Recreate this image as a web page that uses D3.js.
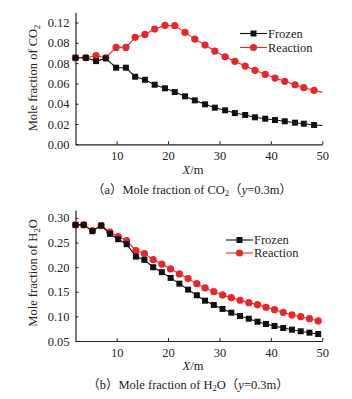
<!DOCTYPE html>
<meta charset="utf-8">
<script src="https://d3js.org/d3.v7.min.js"></script>
<style>
body { margin: 0; background: #fff; }
svg text { font-family: "Liberation Serif", "Times New Roman", "Noto Sans CJK SC", serif; fill: #222; }
</style>
<div id="chart"></div>
<script>
// --- data ---
// (a) CO2 at y=0.3m
var xCO2 = [2, 4.0, 6.0, 7.9, 9.9, 11.8, 13.6, 15.5, 17.4, 19.4, 21.3, 23.3, 25.2, 27.2,
            29.1, 31.1, 33.0, 35.0, 36.9, 38.9, 40.8, 42.7, 44.7, 46.4, 48.4, 50];
var co2Frozen = [0.0853, 0.0853, 0.0820, 0.0847, 0.0755, 0.0755, 0.0666, 0.0636, 0.0587, 0.0552,
                 0.0515, 0.0473, 0.0433, 0.0394, 0.0361, 0.0335, 0.0308, 0.0289, 0.0266, 0.0252,
                 0.0239, 0.0227, 0.0213, 0.0203, 0.0190, 0.0187];
var co2Reaction = [0.0853, 0.0853, 0.0873, 0.0853, 0.0955, 0.0955, 0.1054, 0.1083, 0.1136, 0.1172,
                   0.1169, 0.1103, 0.1037, 0.0978, 0.0919, 0.0863, 0.0818, 0.0771, 0.0729, 0.0690,
                   0.0653, 0.0621, 0.0587, 0.0558, 0.0532, 0.0512];
var co2Ticks = [0, 0.02, 0.04, 0.06, 0.08, 0.10, 0.12];
var co2TickLabels = ["0.00", "0.02", "0.04", "0.06", "0.08", "0.08", "0.12"];

// (b) H2O at y=0.3m
var xH2O = [2, 3.6, 5.3, 7.0, 8.7, 10.3, 11.95, 13.75, 15.4, 17.1, 18.8, 20.5, 22.2, 23.9, 25.6,
            27.2, 28.9, 30.6, 32.3, 34.0, 35.7, 37.4, 39.05, 40.7, 42.4, 44.1, 45.8, 47.5, 49.2];
var h2oFrozen = [0.2858, 0.2858, 0.2730, 0.2844, 0.2675, 0.2567, 0.2466, 0.2214, 0.2147, 0.1998,
                 0.1897, 0.1781, 0.1665, 0.1543, 0.1429, 0.1319, 0.1232, 0.1151, 0.1075, 0.1008,
                 0.0953, 0.0892, 0.0846, 0.0805, 0.0764, 0.0730, 0.0697, 0.0669, 0.0642];
var h2oReaction = [0.2858, 0.2858, 0.2742, 0.2844, 0.2710, 0.2620, 0.2540, 0.2336, 0.2275, 0.2153,
                   0.2059, 0.1964, 0.1862, 0.1767, 0.1665, 0.1578, 0.1502, 0.1435, 0.1380, 0.1327,
                   0.1279, 0.1238, 0.1185, 0.1136, 0.1083, 0.1029, 0.0994, 0.0953, 0.0907];
var h2oTicks = [0.05, 0.10, 0.15, 0.20, 0.25, 0.30];
var h2oTickLabels = ["0.05", "0.10", "0.15", "0.20", "0.25", "0.30"];

var xTicks = [10, 20, 30, 40, 50];
var seriesNames = ["Frozen", "Reaction"];
var colors = { "Frozen": "#111", "Reaction": "#e8272d" };

var svg = d3.select("#chart").append("svg")
    .attr("width", 352).attr("height", 399);

function panel(opt) {
  var g = svg.append("g");
  var x = d3.scaleLinear().domain([2, 50]).range([75.5, 322.3]);
  var y = d3.scaleLinear().domain(opt.yDomain).range(opt.yRange);

  // axes (left + bottom only, ticks inward)
  var xa = g.append("g").attr("transform", "translate(0," + opt.yRange[0] + ")")
    .call(d3.axisBottom(x).tickValues(xTicks).tickSizeInner(-3).tickSizeOuter(0).tickPadding(7));
  var ya = g.append("g").attr("transform", "translate(75.5,0)")
    .call(d3.axisLeft(y).tickValues(opt.ticks).tickSizeInner(-3).tickSizeOuter(0).tickPadding(6)
      .tickFormat(function(d, i) { return opt.tickLabels[i]; }));
  [xa, ya].forEach(function(a) {
    a.select(".domain").attr("stroke", "#222").attr("stroke-width", 1.2);
    a.selectAll(".tick line").attr("stroke", "#222");
    a.selectAll("text").attr("font-size", 12.5).attr("fill", "#222");
  });

  var line = d3.line().x(function(d) { return x(d.x); }).y(function(d) { return y(d.v); });

  // draw Reaction first, Frozen on top
  ["Reaction", "Frozen"].forEach(function(name) {
    var pts = opt.xs.map(function(xv, i) { return { x: xv, v: opt.data[name][i] }; });
    g.append("path").datum(pts)
      .attr("fill", "none").attr("stroke", colors[name]).attr("stroke-width", 1.1)
      .attr("d", line);
    var mk = opt.lastMarker ? pts : pts.slice(0, -1);
    if (name === "Frozen") {
      g.selectAll(null).data(mk).enter().append("rect")
        .attr("x", function(d) { return x(d.x) - 3; })
        .attr("y", function(d) { return y(d.v) - 3; })
        .attr("width", 6).attr("height", 6).attr("fill", colors[name]);
    } else {
      g.selectAll(null).data(mk).enter().append("circle")
        .attr("cx", function(d) { return x(d.x); })
        .attr("cy", function(d) { return y(d.v); })
        .attr("r", 3.6).attr("fill", colors[name]);
    }
  });

  // legend
  seriesNames.forEach(function(name, i) {
    var ly = opt.legend[1] + i * opt.legendGap;
    var lx = opt.legend[0];
    g.append("line").attr("x1", lx).attr("x2", lx + 27).attr("y1", ly).attr("y2", ly)
      .attr("stroke", colors[name]).attr("stroke-width", 1.1);
    if (name === "Frozen") {
      g.append("rect").attr("x", lx + 13.5 - 3).attr("y", ly - 3).attr("width", 6).attr("height", 6)
        .attr("fill", colors[name]);
    } else {
      g.append("circle").attr("cx", lx + 13.5).attr("cy", ly).attr("r", 3.6).attr("fill", colors[name]);
    }
    g.append("text").attr("x", lx + 28).attr("y", ly + 4).attr("font-size", 12.5).text(name);
  });

  // y label
  var yl = g.append("text").attr("transform", "translate(37," + opt.yLabelY + ") rotate(-90)")
    .attr("text-anchor", "middle").attr("font-size", 12.5);
  yl.append("tspan").text("Mole fraction of " + opt.species[0]);
  yl.append("tspan").attr("dy", 3).attr("font-size", 8.5).text(opt.species[1]);
  if (opt.species[2]) yl.append("tspan").attr("dy", -3).text(opt.species[2]);

  // x label
  var xl = g.append("text").attr("x", 193).attr("y", opt.xLabelY)
    .attr("text-anchor", "middle").attr("font-size", 12.5);
  xl.append("tspan").attr("font-style", "italic").text("X");
  xl.append("tspan").text("/m");

  // caption
  var cap = g.append("text").attr("x", opt.capX).attr("y", opt.capY)
    .attr("text-anchor", "middle").attr("font-size", 12.5);
  cap.append("tspan").text("（" + opt.letter + "）Mole fraction of " + opt.species[0]);
  cap.append("tspan").attr("dy", 2).attr("font-size", 8.5).text(opt.species[1]);
  cap.append("tspan").attr("dy", -2).text((opt.species[2] || "") + "（");
  cap.append("tspan").attr("font-style", "italic").text("y");
  cap.append("tspan").text("=0.3m）");
}

panel({
  xs: xCO2, data: { "Frozen": co2Frozen, "Reaction": co2Reaction },
  yDomain: [0, 0.13], yRange: [144.3, 12.4],
  ticks: co2Ticks, tickLabels: co2TickLabels, lastMarker: false,
  legend: [240, 33.5], legendGap: 14,
  species: ["CO", "2"], letter: "a",
  yLabelY: 78, xLabelY: 174, capX: 192, capY: 194
});

panel({
  xs: xH2O, data: { "Frozen": h2oFrozen, "Reaction": h2oReaction },
  yDomain: [0.05, 0.316], yRange: [341, 210],
  ticks: h2oTicks, tickLabels: h2oTickLabels, lastMarker: true,
  legend: [226, 240], legendGap: 13,
  species: ["H", "2", "O"], letter: "b",
  yLabelY: 273, xLabelY: 370, capX: 188, capY: 389
});
</script>
